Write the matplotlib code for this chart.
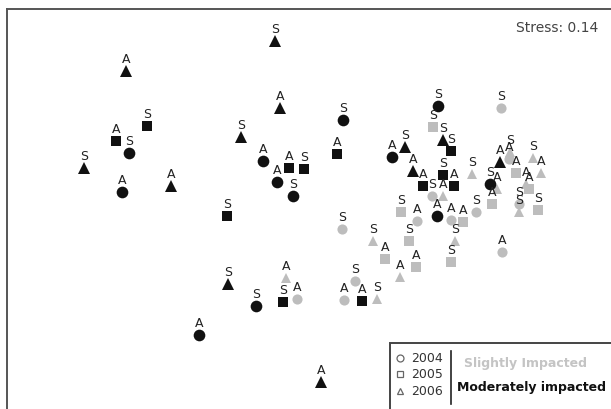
import matplotlib
matplotlib.use("Agg")
import matplotlib.pyplot as plt
from matplotlib.lines import Line2D
from matplotlib.patches import Rectangle

# NMDS ordination of sites (axis 1, axis 2), sampling year, impact class, site code
nmds1 = [
    # moderately impacted
    -0.25, -1.74, -0.20, -1.53, -1.84, -1.71, -0.59, -2.16, -0.37, -0.11, 0.04,
    -0.23, -0.07, -1.29, -1.78, 0.43, 0.37, 1.38, 1.43, 1.51, 0.92, 1.05, 1.13,
    1.43, 1.23, 1.54, 2.00, 1.90, 1.37, -0.73, -0.72, -0.44, -0.17, -1.01, 0.62,
    0.21,
    # slightly impacted
    2.01, 1.33, 1.32, 1.43, 1.72, 2.09, 2.10, 2.16, 2.33, 2.41, 2.29, 2.26,
    2.19, 2.19, 2.38, 1.97, 1.92, 1.76, 1.01, 1.17, 1.51, 1.63, 0.42, 0.73,
    0.85, 1.09, 1.16, 1.00, 1.55, 1.51, 2.02, 0.55, 0.44, 0.77, -0.14, -0.03,
]
nmds2 = [
    1.58, 1.28, 0.91, 0.73, 0.58, 0.46, 0.62, 0.31, 0.38, 0.31, 0.30,
    0.17, 0.03, 0.13, 0.07, 0.79, 0.45, 0.93, 0.59, 0.48, 0.42, 0.52, 0.28,
    0.24, 0.13, 0.13, 0.37, 0.15, -0.17, -0.17, -0.85, -1.07, -1.03, -1.36, -1.02,
    -1.83,
    0.91, 0.72, 0.03, 0.03, 0.25, 0.40, 0.47, 0.26, 0.41, 0.26, 0.10, 0.15,
    -0.05, -0.13, -0.11, 0.10, -0.05, -0.13, -0.13, -0.22, -0.21, -0.23, -0.30, -0.42,
    -0.60, -0.42, -0.68, -0.78, -0.42, -0.63, -0.53, -0.82, -1.01, -1.00, -0.79, -1.00,
]
year = [
    2006, 2006, 2006, 2005, 2005, 2004, 2006, 2006, 2004, 2005, 2005,
    2004, 2004, 2006, 2004, 2004, 2005, 2004, 2006, 2005, 2004, 2006, 2006,
    2005, 2005, 2005, 2006, 2004, 2004, 2005, 2006, 2004, 2005, 2004, 2005,
    2006,
    2004, 2005, 2004, 2006, 2006, 2004, 2006, 2005, 2006, 2006, 2005, 2006,
    2004, 2006, 2005, 2006, 2005, 2004, 2005, 2004, 2004, 2005, 2004, 2006,
    2005, 2005, 2005, 2006, 2006, 2005, 2004, 2004, 2004, 2006, 2006, 2004,
]
impact = ["Moderately impacted"] * 36 + ["Slightly Impacted"] * 36
site = [
    "S", "A", "A", "S", "A", "S", "S", "S", "A", "A", "S",
    "A", "S", "A", "A", "S", "A", "S", "S", "S", "A", "S", "A",
    "S", "A", "A", "A", "S", "A", "S", "S", "S", "S", "A", "A",
    "A",
    "S", "S", "S", "A", "S", "A", "S", "A", "S", "A", "A", "A",
    "S", "S", "S", "A", "A", "S", "S", "A", "A", "A", "S", "S",
    "A", "S", "A", "A", "S", "S", "A", "S", "A", "S", "A", "A",
]
stress = 0.14

year_marker = {2004: "o", 2005: "s", 2006: "^"}
impact_style = {
    "Slightly Impacted": dict(color="#bdbdbd", sizes={2004: 7.3, 2005: 6.6, 2006: 6.6}),
    "Moderately impacted": dict(color="#111111", sizes={2004: 8.4, 2005: 7.4, 2006: 8.2}),
}

W, H = 611, 410
fig = plt.figure(figsize=(W / 100, H / 100), dpi=100)
ax = fig.add_axes([7 / W, -10 / H, 610 / W, 410 / H])
ax.set_xlim(-2.93, 3.17)
ax.set_ylim(-2.2, 1.9)
ax.set_xticks([])
ax.set_yticks([])
for side, sp in ax.spines.items():
    sp.set_color("#555555")
    sp.set_linewidth(1.4)

# markers: slightly impacted underneath, moderately impacted on top
for imp in ["Slightly Impacted", "Moderately impacted"]:
    st = impact_style[imp]
    for yr in [2004, 2005, 2006]:
        xs = [x for x, i, y_ in zip(nmds1, impact, year) if i == imp and y_ == yr]
        ys = [y for y, i, y_ in zip(nmds2, impact, year) if i == imp and y_ == yr]
        ax.plot(xs, ys, linestyle="none", marker=year_marker[yr],
                markersize=st["sizes"][yr], color=st["color"],
                markeredgewidth=0, zorder=2 if imp.startswith("M") else 1)

# site codes above each point
for x, y, s in zip(nmds1, nmds2, site):
    ax.annotate(s, (x, y), xytext=(0, 6.8), textcoords="offset points",
                ha="center", va="baseline", fontsize=9, color="#222222", zorder=3)

ax.text(0.97, 0.957, f"Stress: {stress:.2f}", transform=ax.transAxes,
        ha="right", va="center", fontsize=10, color="#444444")

# legend box
def fx(px):
    return px / W

def fy(py):
    return 1 - py / H

fig.add_artist(Rectangle((fx(390), fy(420)), fx(240), fy(344) - fy(420),
                         transform=fig.transFigure, facecolor="white",
                         edgecolor="#444444", linewidth=1.4, zorder=5))
for yr, py in zip([2004, 2005, 2006], [359, 375, 392]):
    fig.add_artist(Line2D([fx(400)], [fy(py)], marker=year_marker[yr], markersize=5,
                          markerfacecolor="white", markeredgecolor="#666666",
                          markeredgewidth=0.9, linestyle="none",
                          transform=fig.transFigure, zorder=6))
    fig.text(fx(411), fy(py), str(yr), ha="left", va="center", fontsize=9,
             color="#333333", zorder=6)
fig.add_artist(Line2D([fx(451), fx(451)], [fy(352), fy(405)], color="#222222",
                      linewidth=1.2, transform=fig.transFigure, zorder=6))
fig.text(fx(464), fy(364), "Slightly Impacted", ha="left", va="center", fontsize=9,
         fontweight="bold", color="#c4c4c4", zorder=6)
fig.text(fx(457), fy(388), "Moderately impacted", ha="left", va="center", fontsize=9,
         fontweight="bold", color="#111111", zorder=6)

fig.savefig("out.png", dpi=100)
